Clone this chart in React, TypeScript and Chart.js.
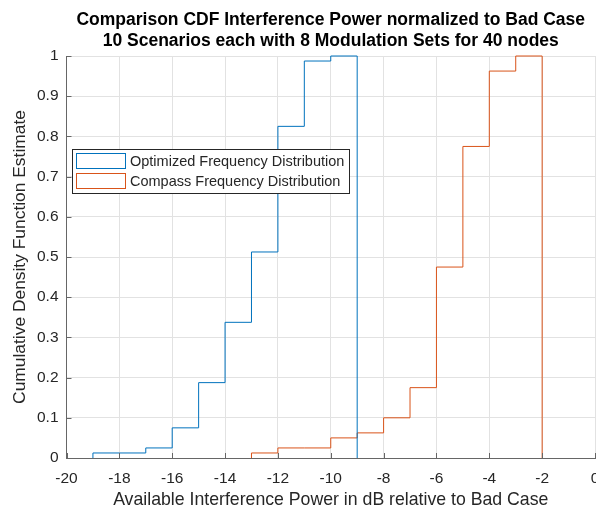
import { useEffect, useRef } from 'react';
import { Chart, registerables } from 'chart.js';

Chart.register(...registerables);

const FONT = '"Liberation Sans", Arial, Helvetica, sans-serif';

// Bin edges (dB) and cumulative fractions of the 80 runs
const optimizedEdges = [-19, -18, -17, -16, -15, -14, -13, -12, -11, -10, -9];
const optimizedCdf = [0.0125, 0.0125, 0.025, 0.075, 0.1875, 0.3375, 0.5125, 0.825, 0.9875, 1];

const compassEdges = [-13, -12, -11, -10, -9, -8, -7, -6, -5, -4, -3, -2];
const compassCdf = [0.0125, 0.025, 0.025, 0.05, 0.0625, 0.1, 0.175, 0.475, 0.775, 0.9625, 1];

const titleLines = [
  'Comparison CDF Interference Power normalized to Bad Case',
  '10 Scenarios each with 8 Modulation Sets for 40 nodes',
];
const seriesNames = ['Optimized Frequency Distribution', 'Compass Frequency Distribution'];
const seriesColors = ['#0072BD', '#D95319'];
const xLabel = 'Available Interference Power in dB relative to Bad Case';
const yLabel = 'Cumulative Density Function Estimate';

// Outline of a cdf histogram: rises at the first edge, steps per bin, drops at the last edge
function stairs(edges: number[], cdf: number[]) {
  const pts = [{ x: edges[0], y: 0 }];
  cdf.forEach((v, i) => pts.push({ x: edges[i + 1], y: v }));
  pts.push({ x: edges[edges.length - 1], y: 0 });
  return pts;
}

const decorations = {
  id: 'decorations',
  afterDatasetsDraw(chart: any) {
    const { ctx, chartArea, scales } = chart;
    const xs = scales.x;
    const ys = scales.y;
    ctx.save();
    // inward tick marks
    ctx.strokeStyle = '#666666';
    ctx.lineWidth = 1;
    ctx.beginPath();
    xs.ticks.forEach((t: any) => {
      const px = Math.round(xs.getPixelForValue(t.value)) + 0.5;
      ctx.moveTo(px, chartArea.bottom);
      ctx.lineTo(px, chartArea.bottom - 5);
    });
    ys.ticks.forEach((t: any) => {
      const py = Math.round(ys.getPixelForValue(t.value)) + 0.5;
      ctx.moveTo(chartArea.left, py);
      ctx.lineTo(chartArea.left + 5, py);
    });
    ctx.stroke();

    // title
    const cx = (chartArea.left + chartArea.right) / 2;
    ctx.fillStyle = '#000000';
    ctx.font = `bold 17.5px ${FONT}`;
    ctx.textAlign = 'center';
    ctx.textBaseline = 'alphabetic';
    ctx.fillText(titleLines[0], cx, 25);
    ctx.fillText(titleLines[1], cx, 45.5);

    // legend
    const lx = 72.5, ly = 149.5, lw = 277, lh = 44;
    ctx.fillStyle = '#ffffff';
    ctx.fillRect(lx, ly, lw, lh);
    ctx.strokeStyle = '#262626';
    ctx.strokeRect(lx, ly, lw, lh);
    ctx.font = `14.5px ${FONT}`;
    ctx.textAlign = 'left';
    ctx.textBaseline = 'middle';
    seriesNames.forEach((name, i) => {
      const y0 = 153.5 + i * 20;
      ctx.strokeStyle = seriesColors[i];
      ctx.strokeRect(76.5, y0, 49, 15);
      ctx.fillStyle = '#262626';
      ctx.fillText(name, 130, y0 + 8);
    });
    ctx.restore();
  },
};

export default function App() {
  const ref = useRef<HTMLCanvasElement>(null);

  useEffect(() => {
    if (!ref.current) return;
    Chart.defaults.font.family = FONT;
    const chart = new Chart(ref.current, {
      type: 'line',
      data: {
        datasets: [
          {
            label: seriesNames[0],
            data: stairs(optimizedEdges, optimizedCdf),
            borderColor: seriesColors[0],
            borderWidth: 1,
            pointRadius: 0,
            stepped: 'after',
            fill: false,
            clip: 3,
          },
          {
            label: seriesNames[1],
            data: stairs(compassEdges, compassCdf),
            borderColor: seriesColors[1],
            borderWidth: 1,
            pointRadius: 0,
            stepped: 'after',
            fill: false,
            clip: 3,
          },
        ],
      },
      options: {
        responsive: false,
        animation: false,
        layout: { padding: { top: 56, right: 1, left: 0, bottom: 0 } },
        plugins: { legend: { display: false }, title: { display: false }, tooltip: { enabled: false } },
        scales: {
          x: {
            type: 'linear',
            min: -20,
            max: 0,
            ticks: {
              stepSize: 2,
              autoSkip: false,
              maxRotation: 0,
              color: '#262626',
              font: { size: 15.5 },
              padding: 11,
            },
            grid: { color: '#e2e2e2', drawTicks: false },
            border: { color: '#666666' },
            title: {
              display: true,
              text: xLabel,
              color: '#262626',
              font: { size: 17.7 },
              padding: { top: 0, bottom: -1 },
            },
            afterFit(s: any) {
              s.height = 52;
              s.paddingLeft = 0;
              s.paddingRight = 0;
            },
          },
          y: {
            type: 'linear',
            min: 0,
            max: 1,
            ticks: {
              stepSize: 0.1,
              color: '#262626',
              font: { size: 15.5 },
              padding: 8,
              callback: (v: any) => String(Math.round(Number(v) * 10) / 10),
            },
            grid: { color: '#e2e2e2', drawTicks: false },
            border: { color: '#666666' },
            title: {
              display: true,
              text: yLabel,
              color: '#262626',
              font: { size: 17.4 },
              padding: { top: 10, bottom: 0 },
            },
            afterFit(s: any) {
              s.width = 66.5;
              s.paddingTop = 0;
              s.paddingBottom = 0;
            },
          },
        },
      },
      plugins: [decorations],
    } as any);
    return () => chart.destroy();
  }, []);

  return (
    <div style={{ position: 'absolute', left: 0, top: 0, width: 596, height: 510, background: '#ffffff' }}>
      <canvas ref={ref} width={596} height={510} />
    </div>
  );
}
